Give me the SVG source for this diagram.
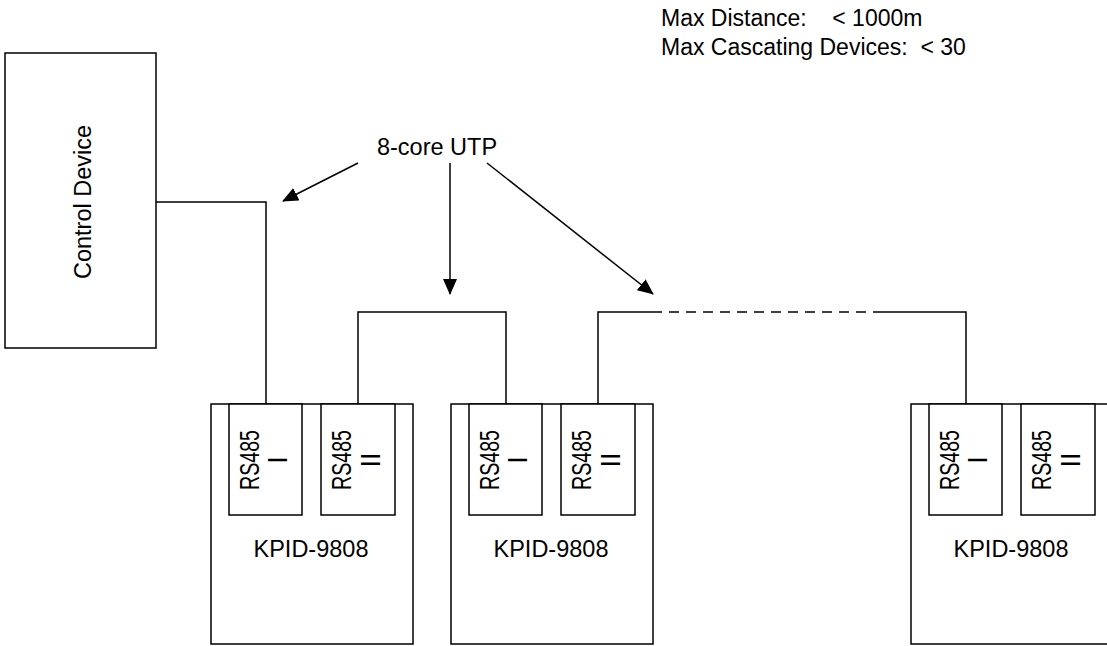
<svg xmlns="http://www.w3.org/2000/svg" width="1107" height="646" viewBox="0 0 1107 646">
<style>
.ln{fill:none;stroke:#000;stroke-width:1.5}
.bx{fill:#fff;stroke:#000;stroke-width:1.5}
.t{font-family:"Liberation Sans",Arial,sans-serif;font-size:23.5px;fill:#000}
.n{font-family:"Liberation Sans",Arial,sans-serif;font-size:23px;fill:#000}
.rs{font-family:"Liberation Sans",Arial,sans-serif;font-size:27px;fill:#000}
</style>
<defs>
<marker id="ah" markerWidth="16" markerHeight="14" refX="15" refY="7" orient="auto" markerUnits="userSpaceOnUse">
<path d="M0,0 L16,7 L0,14 Z" fill="#000"/>
</marker>
</defs>
<rect width="1107" height="646" fill="#fff"/>
<g id="notes">
<text class="n" x="661" y="26" xml:space="preserve">Max Distance:    &lt; 1000m</text>
<text class="n" x="661" y="55" xml:space="preserve">Max Cascating Devices:  &lt; 30</text>
</g>
<g id="control-device">
<rect class="bx" x="5" y="53" width="151" height="295"/>
<text class="t" transform="translate(91,202) rotate(-90)" text-anchor="middle">Control Device</text>
</g>
<g id="device1">
<rect class="bx" x="211" y="404" width="202" height="240"/>
<rect class="bx" x="229" y="404" width="73" height="111"/>
<rect class="bx" x="321" y="404" width="74" height="111"/>
<text class="rs" transform="translate(259,460) rotate(-90)" text-anchor="middle" textLength="60" lengthAdjust="spacingAndGlyphs">RS485</text>
<text class="rs" transform="translate(287,460) rotate(-90)" text-anchor="middle">I</text>
<text class="rs" transform="translate(351,460) rotate(-90)" text-anchor="middle" textLength="60" lengthAdjust="spacingAndGlyphs">RS485</text>
<text class="rs" transform="translate(380,460) rotate(-90)" text-anchor="middle">II</text>
<text class="t" x="311" y="557" text-anchor="middle">KPID-9808</text>
</g>
<g id="device2">
<rect class="bx" x="451" y="404" width="202" height="240"/>
<rect class="bx" x="469" y="404" width="73" height="111"/>
<rect class="bx" x="561" y="404" width="74" height="111"/>
<text class="rs" transform="translate(499,460) rotate(-90)" text-anchor="middle" textLength="60" lengthAdjust="spacingAndGlyphs">RS485</text>
<text class="rs" transform="translate(527,460) rotate(-90)" text-anchor="middle">I</text>
<text class="rs" transform="translate(591,460) rotate(-90)" text-anchor="middle" textLength="60" lengthAdjust="spacingAndGlyphs">RS485</text>
<text class="rs" transform="translate(620,460) rotate(-90)" text-anchor="middle">II</text>
<text class="t" x="551" y="557" text-anchor="middle">KPID-9808</text>
</g>
<g id="device3">
<rect class="bx" x="911" y="404" width="202" height="240"/>
<rect class="bx" x="929" y="404" width="73" height="111"/>
<rect class="bx" x="1021" y="404" width="74" height="111"/>
<text class="rs" transform="translate(959,460) rotate(-90)" text-anchor="middle" textLength="60" lengthAdjust="spacingAndGlyphs">RS485</text>
<text class="rs" transform="translate(987,460) rotate(-90)" text-anchor="middle">I</text>
<text class="rs" transform="translate(1051,460) rotate(-90)" text-anchor="middle" textLength="60" lengthAdjust="spacingAndGlyphs">RS485</text>
<text class="rs" transform="translate(1080,460) rotate(-90)" text-anchor="middle">II</text>
<text class="t" x="1011" y="557" text-anchor="middle">KPID-9808</text>
</g>
<g id="label-utp">
<text class="t" x="437" y="155" text-anchor="middle">8-core UTP</text>
</g>
<g id="connectors">
<polyline class="ln" points="156,202 266,202 266,404"/>
<polyline class="ln" points="358,404 358,312 506,312 506,404"/>
<polyline class="ln" points="598,404 598,312 652,312"/>
<line class="ln" x1="652" y1="312" x2="873" y2="312" stroke-dasharray="10,7"/>
<polyline class="ln" points="873,312 966,312 966,404"/>
<line class="ln" x1="358" y1="163" x2="283" y2="201" marker-end="url(#ah)"/>
<line class="ln" x1="450" y1="163" x2="450" y2="294" marker-end="url(#ah)"/>
<line class="ln" x1="487" y1="163" x2="653" y2="294" marker-end="url(#ah)"/>
</g>
</svg>
